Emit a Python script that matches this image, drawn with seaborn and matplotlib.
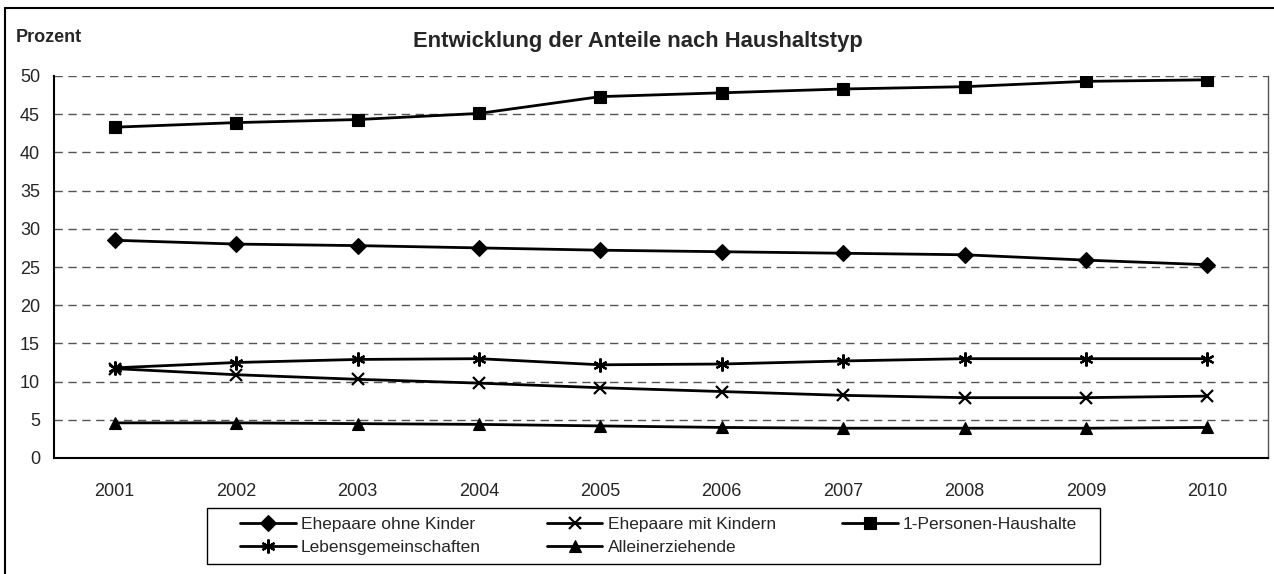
import numpy as np
import pandas as pd
import matplotlib
matplotlib.use("Agg")
import matplotlib.pyplot as plt
from matplotlib.lines import Line2D
from matplotlib.patches import Rectangle
import seaborn as sns

# data
years = [2001, 2002, 2003, 2004, 2005, 2006, 2007, 2008, 2009, 2010]
ehepaare_ohne = [28.5, 28.0, 27.8, 27.5, 27.2, 27.0, 26.8, 26.6, 25.9, 25.3]
ehepaare_mit = [11.7, 10.9, 10.3, 9.8, 9.2, 8.7, 8.2, 7.9, 7.9, 8.1]
ein_personen = [43.3, 43.9, 44.3, 45.1, 47.3, 47.8, 48.3, 48.6, 49.3, 49.5]
lebensgem = [11.8, 12.5, 12.9, 13.0, 12.2, 12.3, 12.7, 13.0, 13.0, 13.0]
alleinerz = [4.6, 4.6, 4.5, 4.4, 4.2, 4.0, 3.9, 3.9, 3.9, 4.0]

series_names = ["Ehepaare ohne Kinder", "Ehepaare mit Kindern", "1-Personen-Haushalte",
                "Lebensgemeinschaften", "Alleinerziehende"]
series_values = [ehepaare_ohne, ehepaare_mit, ein_personen, lebensgem, alleinerz]

sns.set_style("white")
plt.rcParams["font.family"] = ["Liberation Sans", "DejaVu Sans"]

df = pd.DataFrame({
    "Jahr": np.tile(years, len(series_names)),
    "Anteil": np.concatenate(series_values),
    "Typ": np.repeat(series_names, len(years)),
})

# marker, size, edge width per series
marker_style = {
    "Ehepaare ohne Kinder": ("D", 8, 0.8),
    "Ehepaare mit Kindern": ("x", 9, 1.6),
    "1-Personen-Haushalte": ("s", 9, 0.8),
    "Lebensgemeinschaften": ((6, 2, 0), 10, 1.6),
    "Alleinerziehende": ("^", 9, 0.8),
}

W, H = 1274, 574
fig = plt.figure(figsize=(W / 100, H / 100), dpi=100)
ax = fig.add_axes([54 / W, 1 - 458 / H, 1214 / W, 382 / H])

for name in series_names:
    sub = df[df["Typ"] == name]
    m, ms, mew = marker_style[name]
    sns.lineplot(data=sub, x="Jahr", y="Anteil", ax=ax, color="black", linewidth=2,
                 marker=m, markersize=ms, markeredgecolor="black",
                 markerfacecolor="black", markeredgewidth=mew,
                 label=name, legend=False)

ax.set_xlim(2000.5, 2010.5)
ax.set_ylim(0, 50)
ax.set_yticks(range(0, 51, 5))
ax.set_xticks(years)
ax.set_xticklabels([str(y) for y in years])
ax.set_xticks(np.arange(2000.5, 2011, 1), minor=True)
ax.tick_params(axis="x", which="major", length=0, pad=18, labelsize=13)
ax.tick_params(axis="x", which="minor", length=6, width=1, color="black", direction="out")
ax.tick_params(axis="y", length=6, width=1, color="black", direction="out", labelsize=13, pad=4)
ax.set_xlabel("")
ax.set_ylabel("")

for v in range(5, 51, 5):
    ax.axhline(v, color="#555555", linewidth=1, linestyle=(0, (6, 4)), zorder=0)

for s in ["left", "bottom"]:
    ax.spines[s].set_color("black")
    ax.spines[s].set_linewidth(1.5)
ax.spines["top"].set_visible(False)
ax.spines["right"].set_color("#555555")
ax.spines["right"].set_linewidth(1)

# legend: frame drawn separately, entries spread across it
fig.add_artist(Rectangle((207 / W, 1 - 564 / H), 893 / W, 56 / H, transform=fig.transFigure,
                         facecolor="white", edgecolor="black", linewidth=1, zorder=1))
handles, labels = ax.get_legend_handles_labels()
order = [0, 3, 1, 4, 2]
leg = fig.legend([handles[i] for i in order], [labels[i] for i in order],
                 ncol=3, loc="center", mode="expand",
                 bbox_to_anchor=(240 / W, 1 - 562 / H, 837 / W, 52 / H),
                 frameon=False, fontsize=12.5,
                 handlelength=3.2, handletextpad=0.3, borderpad=0,
                 borderaxespad=0, labelspacing=0.45)
leg.set_zorder(2)

fig.text(638 / W, 1 - 42 / H, "Entwicklung der Anteile nach Haushaltstyp",
         ha="center", va="center", fontsize=15.8, fontweight="bold")
fig.text(16 / W, 1 - 37 / H, "Prozent", ha="left", va="center",
         fontsize=13, fontweight="bold")

# outer frame (left and top edges visible)
fig.add_artist(Line2D([5 / W, 5 / W], [0, 1 - 8 / H], transform=fig.transFigure,
                      color="black", linewidth=1.5))
fig.add_artist(Line2D([5 / W, 1], [1 - 8 / H, 1 - 8 / H], transform=fig.transFigure,
                      color="black", linewidth=1.5))

fig.savefig("out.png", dpi=100)
